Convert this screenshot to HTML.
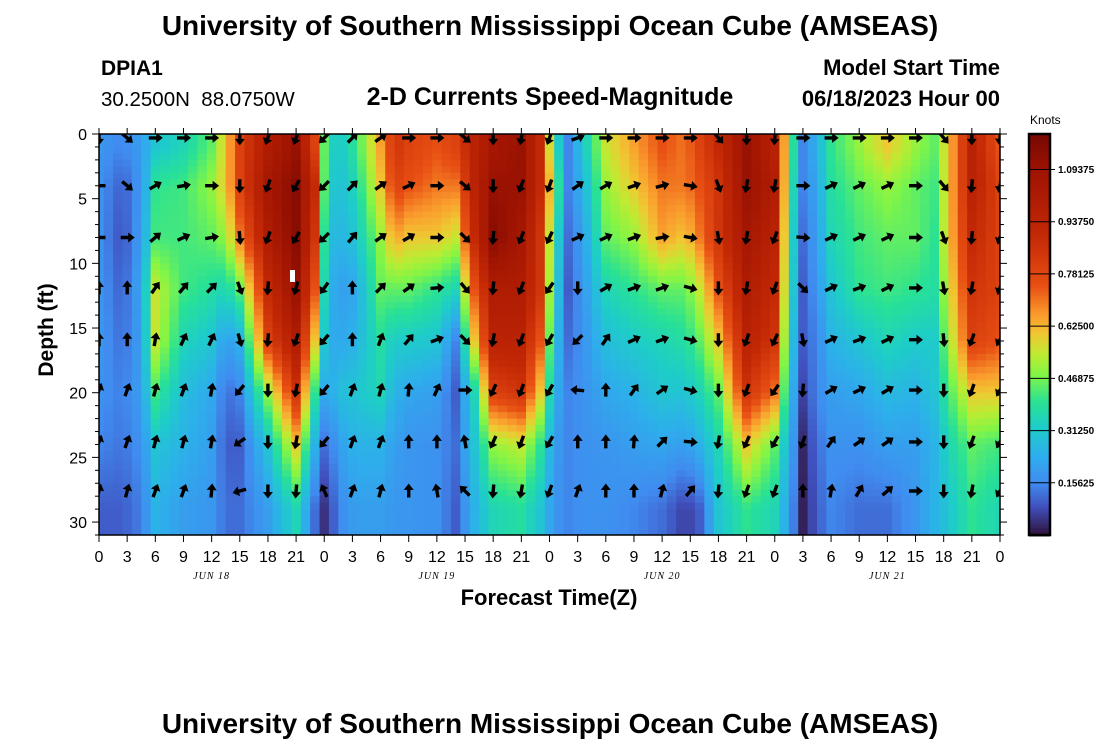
<!DOCTYPE html>
<html><head><meta charset="utf-8">
<style>
body{margin:0;background:#fff;width:1100px;height:750px;overflow:hidden;font-family:"Liberation Sans",sans-serif;}
svg{display:block}
</style></head>
<body>
<svg id="chart" width="1100" height="750">
<text x="550" y="35" text-anchor="middle" font-size="28" font-weight="bold">University of Southern Mississippi Ocean Cube (AMSEAS)</text>
<text x="101" y="75" font-size="21" font-weight="bold">DPIA1</text>
<text x="101" y="106" font-size="20.5" style="white-space:pre">30.2500N  88.0750W</text>
<text x="550" y="105" text-anchor="middle" font-size="25" font-weight="bold">2-D Currents Speed-Magnitude</text>
<text x="1000" y="75" text-anchor="end" font-size="22" font-weight="bold">Model Start Time</text>
<text x="1000" y="106" text-anchor="end" font-size="22" font-weight="bold">06/18/2023 Hour 00</text>
<text transform="translate(53,330) rotate(-90)" text-anchor="middle" font-size="21" font-weight="bold">Depth (ft)</text>
<text x="549" y="605" text-anchor="middle" font-size="22" font-weight="bold">Forecast Time(Z)</text>
<text x="1030" y="124" font-size="12">Knots</text>
<text x="550" y="733" text-anchor="middle" font-size="28" font-weight="bold">University of Southern Mississippi Ocean Cube (AMSEAS)</text>
<defs><clipPath id="pc"><rect x="99" y="134" width="901" height="401"/></clipPath></defs>
<g id="heat" clip-path="url(#pc)"></g>
<g id="arrows" clip-path="url(#pc)"></g>
<rect x="290" y="270" width="5" height="12" fill="#fff"/>
<g id="axes"></g>
<g id="cbar"></g>
</svg>
<script>
const hours=[0,2.5,4.5,6,9,12,13.5,15,18,21,23,24.2,25.5,27.3,30,31.5,33,36,38,40,42,45,47,48.5,50,51.5,54,57,60,62.5,64,66,69,72,73.5,75,76.5,78,81,84,87,89,90.5,93,96];
const depths=[1,4,8,12,16,20,24,29];
const speeds=[
[0.18,0.17,0.17,0.18,0.18,0.17,0.15,0.1],
[0.15,0.1,0.08,0.1,0.12,0.14,0.13,0.1],
[0.2,0.18,0.2,0.22,0.2,0.2,0.17,0.14],
[0.3,0.4,0.42,0.55,0.55,0.42,0.3,0.25],
[0.35,0.42,0.42,0.42,0.35,0.28,0.25,0.2],
[0.45,0.5,0.45,0.38,0.3,0.22,0.2,0.18],
[0.6,0.6,0.5,0.35,0.2,0.12,0.1,0.12],
[0.8,0.8,0.7,0.45,0.25,0.15,0.1,0.12],
[1.0,1.05,1.0,0.9,0.8,0.5,0.3,0.2],
[1.1,1.15,1.15,1.1,1.0,0.85,0.6,0.35],
[0.8,0.9,0.85,0.75,0.6,0.4,0.25,0.12],
[0.38,0.35,0.3,0.28,0.25,0.2,0.1,0.03],
[0.3,0.28,0.25,0.2,0.22,0.28,0.2,0.15],
[0.4,0.35,0.3,0.22,0.25,0.3,0.25,0.2],
[0.65,0.6,0.5,0.45,0.38,0.35,0.25,0.2],
[0.85,0.8,0.65,0.45,0.32,0.25,0.2,0.18],
[0.8,0.75,0.6,0.45,0.32,0.22,0.18,0.18],
[0.75,0.7,0.6,0.4,0.3,0.2,0.17,0.17],
[0.8,0.7,0.55,0.35,0.15,0.1,0.12,0.1],
[0.95,0.95,0.9,0.75,0.6,0.35,0.3,0.25],
[1.05,1.1,1.15,1.0,0.95,0.8,0.5,0.35],
[1.1,1.1,1.05,1.0,0.95,0.85,0.55,0.38],
[0.9,0.9,0.85,0.85,0.75,0.6,0.4,0.3],
[0.4,0.5,0.4,0.35,0.3,0.25,0.2,0.18],
[0.15,0.15,0.12,0.1,0.12,0.15,0.15,0.15],
[0.3,0.25,0.2,0.18,0.17,0.17,0.17,0.17],
[0.55,0.5,0.45,0.35,0.28,0.22,0.18,0.17],
[0.65,0.6,0.5,0.4,0.32,0.25,0.2,0.15],
[0.75,0.7,0.65,0.45,0.35,0.3,0.22,0.12],
[0.7,0.7,0.6,0.45,0.38,0.3,0.2,0.06],
[0.8,0.75,0.7,0.55,0.45,0.35,0.25,0.1],
[0.9,0.85,0.85,0.75,0.6,0.45,0.35,0.3],
[1.1,1.1,1.05,1.0,0.95,0.85,0.6,0.4],
[0.95,1.0,0.95,0.9,0.85,0.7,0.45,0.35],
[0.5,0.45,0.42,0.4,0.35,0.3,0.25,0.2],
[0.15,0.15,0.12,0.1,0.1,0.07,0.03,0.02],
[0.25,0.22,0.2,0.18,0.15,0.15,0.12,0.1],
[0.4,0.38,0.35,0.3,0.25,0.2,0.17,0.15],
[0.5,0.45,0.42,0.4,0.3,0.22,0.17,0.12],
[0.6,0.5,0.45,0.42,0.35,0.27,0.2,0.12],
[0.5,0.45,0.45,0.4,0.32,0.25,0.2,0.18],
[0.45,0.42,0.4,0.38,0.32,0.3,0.25,0.25],
[0.6,0.6,0.6,0.55,0.5,0.42,0.35,0.3],
[0.95,0.95,0.9,0.85,0.8,0.6,0.45,0.4],
[0.75,0.8,0.8,0.8,0.75,0.6,0.42,0.35]];
const arrowDepths=[0.3,4,8,11.9,15.9,19.8,23.8,27.6];
const arrowHours=[0,3,6,9,12,15,18,21,24,27,30,33,36,39,42,45,48,51,54,57,60,63,66,69,72,75,78,81,84,87,90,93,96];
// direction in degrees (0=east, 90=north), one array per depth row
const dir0=[-90,-40,0,0,0,-90,-110,-110,-135,45,35,0,0,-40,-90,-100,-110,20,0,0,0,0,-50,-90,-95,0,0,0,0,0,-50,-90,-95];
const dir1=[180,-40,30,10,0,-90,-110,-120,-135,45,35,25,0,-40,-90,-110,-110,35,30,20,15,-10,-70,-100,-100,0,25,25,25,0,-50,-95,-100];
const dir2=[180,0,40,25,10,-85,-110,-120,-135,50,35,30,0,-45,-95,-110,-115,25,25,20,10,-10,-80,-100,-110,-5,25,25,25,0,-70,-95,-110];
const dir3=[90,90,55,50,45,-70,-95,-105,-125,90,45,35,5,-50,-95,-110,-125,-90,30,20,20,-15,-90,-100,-110,-45,25,20,25,0,-80,-100,-110];
const dir4=[90,90,80,65,65,-75,-95,-110,-130,90,70,50,20,-45,-100,-110,-120,-135,55,25,20,-15,-90,-110,-115,-80,25,20,25,0,-85,-110,-120];
const dir5=[70,70,75,70,80,-130,-90,-100,-130,70,75,85,65,0,-115,-110,-120,175,90,55,35,-15,-90,-110,-125,-95,30,25,30,0,-90,-110,-120];
const dir6=[70,70,75,75,80,-145,-90,-100,-130,70,70,90,90,100,-115,-110,-120,90,90,85,45,-5,-100,-115,-120,-110,55,35,35,0,-90,-110,-120];
const dir7=[75,75,70,70,85,-165,-90,-95,115,70,75,90,100,135,-95,-100,-110,70,90,90,75,50,-95,-110,-110,90,80,60,40,0,-90,-100,-120];
const dirs=[dir0,dir1,dir2,dir3,dir4,dir5,dir6,dir7];
const cbTicks=[0.15625,0.3125,0.46875,0.625,0.78125,0.9375,1.09375];

const NS='http://www.w3.org/2000/svg';
const X0=99,X1=1000,Y0=134,Y1=535,HMAX=96,DMAX=31;
const xs=h=>X0+(X1-X0)*h/HMAX;
const ys=d=>Y0+(Y1-Y0)*d/DMAX;
const VMAX=1.2;
const stops=[[0,[48,18,59]],[0.07,[64,80,190]],[0.13,[64,140,240]],[0.2,[45,175,235]],[0.27,[30,205,200]],[0.33,[40,225,150]],[0.4,[130,245,70]],[0.45,[190,235,50]],[0.5,[240,200,50]],[0.55,[250,155,45]],[0.62,[232,80,20]],[0.75,[195,40,5]],[0.9,[160,20,2]],[1.0,[120,8,2]]];
function color(v){let t=Math.max(0,Math.min(1,v/VMAX));for(let i=1;i<stops.length;i++){if(t<=stops[i][0]){const a=stops[i-1],b=stops[i];const f=(t-a[0])/(b[0]-a[0]);const c=a[1].map((q,k)=>Math.round(q+(b[1][k]-q)*f));return `rgb(${c[0]},${c[1]},${c[2]})`;}}return 'rgb(120,8,2)';}
function seg(arr,v){if(v<=arr[0])return[0,0,0];if(v>=arr[arr.length-1])return[arr.length-1,arr.length-1,0];for(let i=1;i<arr.length;i++)if(v<=arr[i])return[i-1,i,(v-arr[i-1])/(arr[i]-arr[i-1])];}
function sample(h,d){const[a,b,f]=seg(hours,h),[c,e,g]=seg(depths,d);const v1=speeds[a][c]*(1-g)+speeds[a][e]*g,v2=speeds[b][c]*(1-g)+speeds[b][e]*g;return v1*(1-f)+v2*f;}
const heat=document.getElementById('heat');
for(let h=0;h<=96;h+=1){for(let d=0;d<31;d+=0.5){const r=document.createElementNS(NS,'rect');


const x=xs(h-0.5),y=ys(d);r.setAttribute('x',x.toFixed(2));r.setAttribute('y',y.toFixed(2));r.setAttribute('width',(xs(1)-X0+0.6).toFixed(2));r.setAttribute('height',(ys(0.5)-Y0+0.6).toFixed(2));r.setAttribute('fill',color(sample(h,d+0.25)));heat.appendChild(r);}}
const ag=document.getElementById('arrows');
arrowDepths.forEach((d,ri)=>{arrowHours.forEach((h,ci)=>{const a=dirs[ri][ci];const p=document.createElementNS(NS,'path');


p.setAttribute('d','M-6.5,-1.7 L1,-1.7 L1,-5 L7.5,0 L1,5 L1,1.7 L-6.5,1.7 Z');p.setAttribute('fill','#000');
p.setAttribute('transform',`translate(${xs(h).toFixed(1)},${ys(d).toFixed(1)}) rotate(${-a})`);ag.appendChild(p);});});
const ax=document.getElementById('axes');
function line(x1,y1,x2,y2,name,w){const l=document.createElementNS(NS,'line');l.setAttribute('x1',x1);l.setAttribute('y1',y1);l.setAttribute('x2',x2);l.setAttribute('y2',y2);l.setAttribute('stroke','#000');l.setAttribute('stroke-width',w||1);


ax.appendChild(l);}
function text(x,y,s,name,opts){const t=document.createElementNS(NS,'text');t.setAttribute('x',x);t.setAttribute('y',y);t.textContent=s;t.setAttribute('text-anchor',opts.anchor||'middle');t.setAttribute('font-size',opts.size);if(opts.style)t.setAttribute('style',opts.style);


return t;}
const frame=document.createElementNS(NS,'rect');frame.setAttribute('x',X0);frame.setAttribute('y',Y0);frame.setAttribute('width',X1-X0);frame.setAttribute('height',Y1-Y0);frame.setAttribute('fill','none');frame.setAttribute('stroke','#000');frame.setAttribute('stroke-width','1.5');


ax.appendChild(frame);
for(let h=0;h<=96;h+=3){const x=xs(h);line(x,Y0,x,Y0-6,'x-tick-top');line(x,Y1,x,Y1+7,'x-tick');ax.appendChild(text(x,562,String(h%24),'x-tick-label',{size:16}));}
for(let d=0;d<=31;d++){const y=ys(d);const L=d%5===0?7:4;line(X0,y,X0-L,y,'y-tick');line(X1,y,X1+L,y,'y-tick-right');if(d%5===0)ax.appendChild(text(X0-12,y+6,String(d),'y-tick-label',{size:16,anchor:'end'}));}
const days=['JUN 18','JUN 19','JUN 20','JUN 21'];
days.forEach((s,i)=>ax.appendChild(text(xs(12+24*i),579,s,'date-label',{size:10,style:'font-family:"Liberation Serif",serif;font-style:italic;letter-spacing:1px'})));
const cb=document.getElementById('cbar');const CX=1029,CW=21;
for(let y=Y0;y<Y1;y+=2){const v=VMAX*(Y1-y-1)/(Y1-Y0);const r=document.createElementNS(NS,'rect');


r.setAttribute('x',CX);r.setAttribute('y',y);r.setAttribute('width',CW);r.setAttribute('height',2.5);r.setAttribute('fill',color(v));cb.appendChild(r);}
const cf=document.createElementNS(NS,'rect');cf.setAttribute('x',CX);cf.setAttribute('y',Y0);cf.setAttribute('width',CW);cf.setAttribute('height',Y1-Y0);cf.setAttribute('fill','none');cf.setAttribute('stroke','#000');cf.setAttribute('stroke-width','2.5');


cb.appendChild(cf);
cbTicks.forEach(v=>{const y=Y1-(Y1-Y0)*v/VMAX;const l=document.createElementNS(NS,'line');l.setAttribute('x1',CX);l.setAttribute('x2',CX+CW+5);l.setAttribute('y1',y);l.setAttribute('y2',y);l.setAttribute('stroke','#000');


cb.appendChild(l);const t=text(CX+CW+8,y+3.5,v.toFixed(5),'colorbar-tick-label',{size:10,anchor:'start',style:'font-weight:bold'});cb.appendChild(t);});
</script>
</body></html>
